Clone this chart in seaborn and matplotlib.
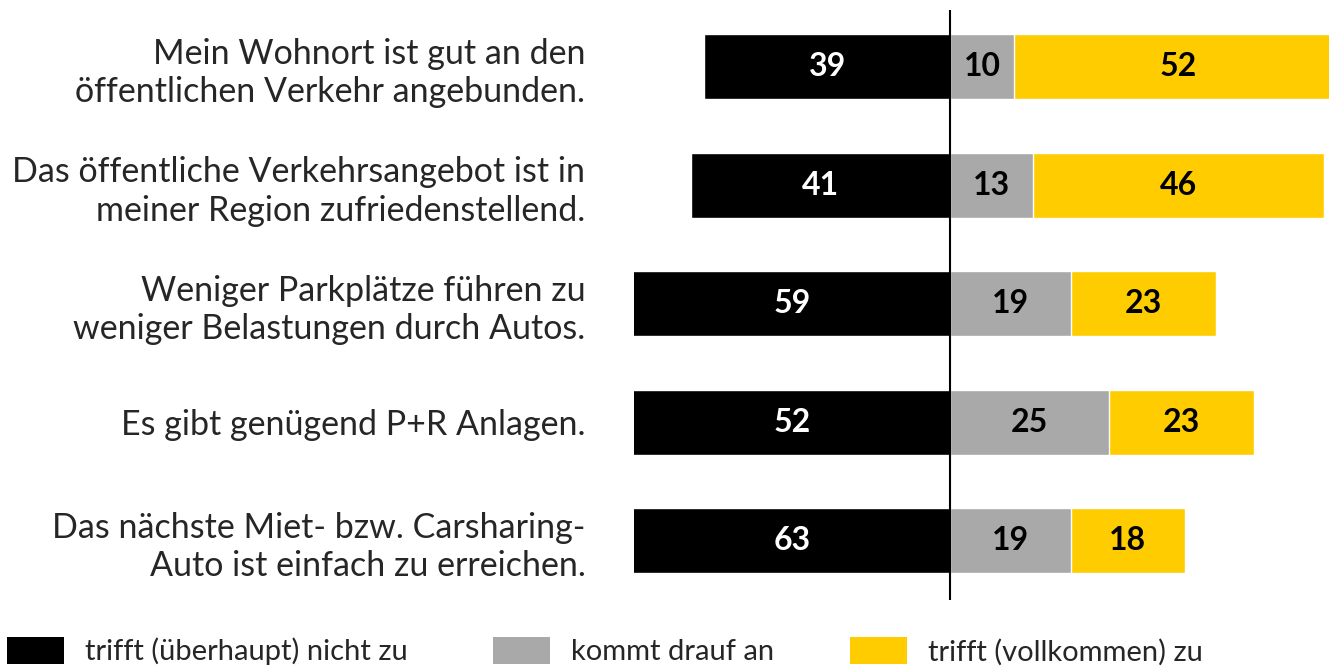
import matplotlib
matplotlib.use("Agg")
import matplotlib.pyplot as plt
import seaborn as sns
import pandas as pd
from matplotlib.patches import Patch

# ── Data ────────────────────────────────────────────────────────────────────
statements = [
    "Mein Wohnort ist gut an den\nöffentlichen Verkehr angebunden.",
    "Das öffentliche Verkehrsangebot ist in\nmeiner Region zufriedenstellend.",
    "Weniger Parkplätze führen zu\nweniger Belastungen durch Autos.",
    "Es gibt genügend P+R Anlagen.",
    "Das nächste Miet- bzw. Carsharing-\nAuto ist einfach zu erreichen.",
]
disagree = [39, 41, 59, 52, 63]
neutral = [10, 13, 19, 25, 19]
agree = [52, 46, 23, 23, 18]

legend_labels = ["trifft (überhaupt) nicht zu", "kommt drauf an", "trifft (vollkommen) zu"]
colors = ["#000000", "#A9A9A9", "#FFCC00"]

sns.set_theme(style="white")
plt.rcParams["font.family"] = ["Lato", "DejaVu Sans"]

df = pd.DataFrame({
    "statement": statements,
    "neg": [-v for v in disagree],
    "mid": neutral,
    "top": [n + a for n, a in zip(neutral, agree)],
})

fig = plt.figure(figsize=(13.29, 6.69), dpi=100)
ax = fig.add_axes([634 / 1329, 1 - 600 / 669, 1 - 634 / 1329, 590 / 669])

# stacked trick: yellow = neutral + agree, gray drawn on top of it
bw = 0.55
sns.barplot(data=df, x="neg", y="statement", orient="h", color=colors[0],
            width=bw, saturation=1, ax=ax)
sns.barplot(data=df, x="top", y="statement", orient="h", color=colors[2],
            width=bw, saturation=1, ax=ax)
sns.barplot(data=df, x="mid", y="statement", orient="h", color=colors[1],
            width=bw, saturation=1, ax=ax)

xmin, xmax = -50, 59.8
ax.set_xlim(xmin, xmax)
ax.set_ylim(4.5, -0.48)
ax.axvline(0, color="black", lw=1.5)

# value labels
for i in range(len(statements)):
    ax.text(max(-disagree[i], xmin) / 2, i, str(disagree[i]), ha="center", va="center",
            color="white", fontsize=23, fontweight="bold")
    ax.text(neutral[i] / 2, i, str(neutral[i]), ha="center", va="center",
            color="black", fontsize=23, fontweight="bold")
    ax.text(neutral[i] + agree[i] / 2, i, str(agree[i]), ha="center", va="center",
            color="black", fontsize=23, fontweight="bold")

ax.set_xlabel("")
ax.set_ylabel("")
ax.set_xticks([])
ax.tick_params(axis="y", length=0, pad=35, labelsize=24.5)
for lbl in ax.get_yticklabels():
    lbl.set_horizontalalignment("right")
    lbl.set_multialignment("right")
    lbl.set_linespacing(1.25)
sns.despine(ax=ax, left=True, bottom=True)

# legend — three separate entries placed like the original
xpos = [7, 493, 850]
for lab, col, x in zip(legend_labels, colors, xpos):
    fig.legend(handles=[Patch(facecolor=col, edgecolor="none", label=lab)],
               loc="center left", bbox_to_anchor=(x / 1329, 1 - 651 / 669),
               frameon=False, fontsize=21, handlelength=1.95, handleheight=1.06,
               handletextpad=0.72, borderpad=0, borderaxespad=0)

fig.savefig("out.png", dpi=100)
